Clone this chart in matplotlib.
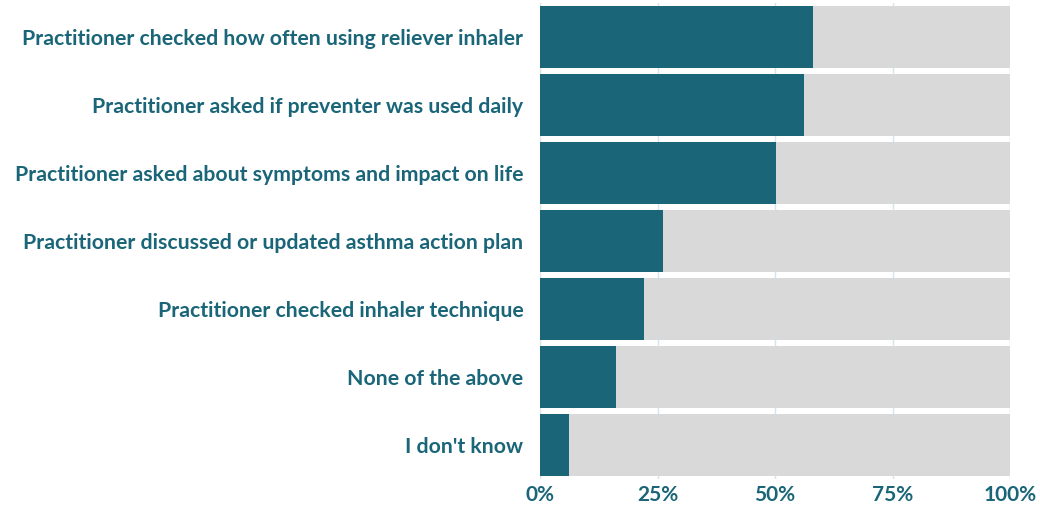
import matplotlib.pyplot as plt

labels = [
    "Practitioner checked how often using reliever inhaler",
    "Practitioner asked if preventer was used daily",
    "Practitioner asked about symptoms and impact on life",
    "Practitioner discussed or updated asthma action plan",
    "Practitioner checked inhaler technique",
    "None of the above",
    "I don't know",
]
values = [58.1, 56.2, 50.2, 26.2, 22.1, 16.2, 6.2]
xticks = [0, 25, 50, 75, 100]
xtick_labels = ["0%", "25%", "50%", "75%", "100%"]

teal = "#1a6678"
grey = "#d9d9d9"

plt.rcParams['font.family'] = ['Lato', 'DejaVu Sans']

fig = plt.figure(figsize=(10.4, 5.08), dpi=100)
# axes spans the bar area in pixels: x 540..1010, y 3..479
ax = fig.add_axes([540 / 1040, 1 - 479 / 508, 470 / 1040, 476 / 508])

ypos = list(range(len(labels)))
ax.barh(ypos, [100] * len(labels), height=0.91, color=grey, zorder=2)
ax.barh(ypos, values, height=0.91, color=teal, zorder=3)

ax.set_xlim(0, 100)
ax.set_ylim(len(labels) - 0.5, -0.5)
ax.set_yticks(ypos)
ax.set_yticklabels(labels, fontsize=15.3, fontweight='bold', color=teal)
ax.set_xticks(xticks)
ax.set_xticklabels(xtick_labels, fontsize=15, fontweight='bold', color=teal)
ax.tick_params(length=0, axis='y', pad=12)
ax.tick_params(length=0, axis='x', pad=4)
ax.grid(axis='x', color='#d3e5ec', linewidth=1, zorder=1)
ax.set_axisbelow(True)
for s in ax.spines.values():
    s.set_visible(False)

fig.savefig("out.png", dpi=100)
